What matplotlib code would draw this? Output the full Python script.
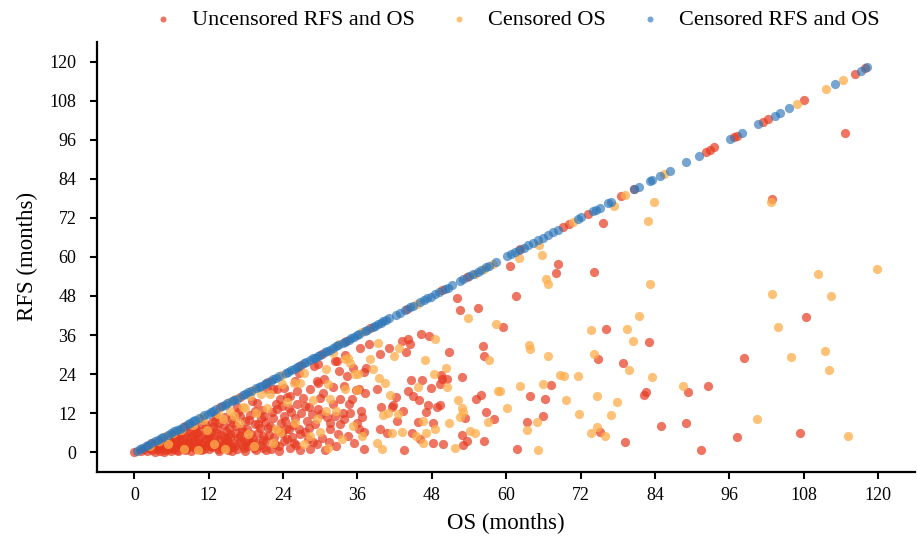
import numpy as np
import matplotlib.pyplot as plt

# colours for the three patient groups
RED = "#e63a1f"
ORANGE = "#fdae4b"
BLUE = "#2b75b8"

# uncensored RFS and OS, off the diagonal (OS, RFS) in months
red_pts = [
    (1.0, 0.4), (1.5, 0.9), (2.0, 0.3), (2.4, 1.2), (2.8, 0.6), (3.0, 1.8),
    (3.3, 0.2), (3.6, 1.1), (3.9, 2.4), (4.2, 0.5), (4.5, 1.6), (4.8, 3.0), (5.0, 0.8), (5.3, 2.1),
    (5.6, 4.1), (5.9, 0.3), (5.8, 1.4),
    (6.1, 2.8), (6.3, 0.9), (6.5, 4.5), (6.7, 1.7), (6.9, 3.4), (7.1, 0.4), (7.3, 2.3), (7.5, 5.6),
    (7.7, 1.2), (7.9, 3.9), (8.1, 0.7), (8.3, 2.7), (8.5, 6.1), (8.7, 1.5), (8.9, 4.6), (8.6, 3.3), (7.0, 5.0),
    (9.1, 0.3), (9.2, 2.0), (9.4, 3.6), (9.6, 5.2), (9.8, 7.4), (10.0, 1.1), (10.2, 2.9), (10.4, 4.3),
    (10.6, 6.5), (10.8, 0.6), (11.0, 1.9), (11.2, 3.2), (11.4, 5.7), (11.6, 8.4), (11.8, 2.4), (11.9, 4.9),
    (10.5, 1.5), (9.9, 6.3),
    (12.1, 0.9), (12.2, 3.0), (12.4, 6.2), (12.6, 1.6), (12.8, 4.4), (13.0, 9.6), (13.2, 2.2), (13.4, 7.0),
    (13.6, 0.4), (13.8, 3.7), (14.0, 5.4), (14.2, 1.3), (14.4, 8.3), (14.6, 2.8), (14.8, 6.6), (14.9, 4.0),
    (13.1, 11.1), (12.7, 7.9),
    (15.1, 0.7), (15.2, 2.5), (15.4, 4.8), (15.6, 10.2), (15.8, 1.6), (16.0, 3.0), (16.2, 6.0), (16.4, 8.1),
    (16.6, 1.0), (16.8, 12.5), (17.0, 5.0), (17.2, 3.6), (17.4, 7.2), (17.6, 2.2), (17.8, 9.5), (17.9, 0.5),
    (16.5, 14.0), (15.3, 7.6),
    (18.1, 1.9), (18.2, 7.1), (18.4, 4.2), (18.6, 11.3), (18.8, 2.9), (19.0, 15.8), (19.2, 4.0), (19.4, 8.8),
    (19.6, 0.8), (19.8, 15.2), (20.0, 6.0), (20.2, 2.3), (20.4, 10.4), (20.6, 13.0), (20.8, 1.4), (20.8, 5.0),
    (19.9, 8.6), (20.9, 11.2),
    (21.2, 3.4), (21.4, 19.4), (21.6, 7.5), (21.9, 8.1), (22.1, 1.0), (22.4, 10.6), (22.4, 19.3), (22.6, 4.6),
    (22.8, 14.9), (23.0, 13.2), (23.0, 19.4), (23.3, 2.0), (23.5, 16.3), (23.6, 9.0), (23.8, 5.8), (24.1, 3.5),
    (24.1, 11.2), (24.1, 19.8),
    (24.4, 7.0), (24.6, 17.0), (24.9, 13.7), (24.9, 7.1), (25.1, 1.4), (25.1, 17.3), (25.4, 4.8), (25.7, 3.0),
    (25.9, 22.0), (26.0, 10.6), (26.2, 14.7), (26.2, 18.8), (26.5, 7.1), (26.7, 0.6), (26.9, 12.0), (26.5, 24.5),
    (27.5, 14.2), (27.8, 9.6), (28.0, 4.2), (28.4, 0.9), (28.4, 19.3), (28.7, 11.8), (29.0, 26.5), (29.4, 2.5),
    (29.4, 21.9), (29.6, 27.0), (29.7, 21.4), (29.7, 13.2), (29.9, 16.8), (28.2, 7.5),
    (30.3, 4.5), (30.5, 18.2), (31.1, 10.8), (31.6, 7.1), (31.6, 9.1), (32.1, 14.7), (32.4, 28.0), (32.6, 1.9),
    (32.7, 28.0), (32.9, 5.6), (33.2, 16.3), (33.2, 8.6), (30.8, 0.8),
    (33.6, 12.0), (34.3, 23.4), (34.5, 5.0), (34.8, 12.2), (35.1, 16.3), (35.4, 2.7), (35.7, 19.0), (35.9, 9.0),
    (34.0, 30.0), (33.9, 20.5),
    (2.2, 1.9), (3.5, 2.8), (4.1, 1.3), (4.7, 0.2), (5.2, 3.6), (5.5, 1.0), (6.0, 5.2), (6.4, 2.2),
    (6.8, 0.6), (7.2, 4.1), (7.4, 1.8), (7.8, 3.0), (8.2, 5.0), (8.4, 1.0), (8.8, 2.4), (9.0, 7.0),
    (9.3, 4.4), (9.7, 1.7), (10.1, 5.8), (10.3, 3.7), (10.7, 8.6), (10.9, 2.5), (11.3, 0.9), (11.5, 4.2),
    (11.7, 7.1), (12.0, 5.3), (12.3, 1.9), (12.5, 9.2), (12.9, 3.4), (13.3, 5.9), (13.5, 1.1), (13.7, 8.9),
    (14.1, 2.5), (14.5, 4.7), (14.7, 10.9), (15.0, 3.3), (15.5, 5.7), (15.7, 0.4), (15.9, 9.0), (16.3, 2.0),
    (16.7, 4.3), (17.1, 11.0), (17.3, 6.3), (17.7, 1.4), (18.0, 3.6), (18.5, 9.9), (18.9, 5.6), (19.3, 1.2),
    (19.5, 12.6), (19.7, 3.1), (20.3, 7.6), (20.7, 3.8), (21.0, 9.4), (21.3, 0.7), (21.8, 5.2), (22.2, 12.3),
    (22.7, 2.6), (23.1, 6.8), (23.4, 0.5), (23.9, 14.2), (24.3, 9.5), (24.7, 4.0), (25.3, 12.4), (25.6, 8.4),
    (26.1, 2.2), (26.8, 5.5), (27.2, 16.8), (27.6, 6.3), (28.1, 13.9), (28.8, 3.3), (29.2, 8.6), (30.1, 11.9),
    (30.6, 22.5), (31.4, 3.1), (32.0, 19.9), (32.3, 11.2), (33.0, 25.0), (33.8, 10.1), (34.6, 14.8), (35.3, 26.0),
    (36.4, 32.1), (37.9, 33.1), (41.1, 32.1), (43.2, 34.1), (44.2, 34.9), (44.5, 33.1), (46.2, 36.2),
    (47.6, 35.8), (39.6, 30.1), (43.9, 30.8), (50.8, 30.8), (56.2, 32.6), (56.5, 29.6), (37.4, 25.8),
    (37.1, 24.6), (49.5, 23.6), (49.7, 22.6), (50.4, 22.4), (52.8, 23.2), (44.7, 22.2), (46.4, 22.2),
    (47.8, 19.7), (49.3, 21.0), (36.3, 19.3), (37.2, 18.3), (39.1, 19.3), (44.2, 18.8), (44.9, 17.3),
    (42.2, 17.0), (45.9, 16.0), (56.0, 17.5), (55.2, 16.3), (53.3, 10.6), (56.8, 12.5), (58.0, 10.1),
    (39.8, 14.0), (41.5, 14.0), (41.8, 14.6), (43.4, 12.7), (47.4, 14.4), (48.8, 14.0), (49.3, 14.5),
    (47.0, 12.5), (36.6, 12.7), (36.8, 10.8), (42.3, 9.6), (45.8, 9.3), (48.2, 9.1), (36.2, 7.1),
    (37.0, 6.2), (39.6, 7.1), (40.7, 5.8), (44.8, 6.0), (46.1, 4.2), (52.8, 5.2), (56.5, 3.5), (53.6, 3.5),
    (53.0, 2.1), (49.8, 2.5), (48.2, 2.8), (43.5, 0.7), (37.1, 0.9),
    (52.0, 47.5), (52.6, 43.7), (55.5, 44.4), (59.5, 38.5), (61.6, 48.0), (60.6, 57.2),
    (68.3, 57.8), (68.0, 55.2), (74.1, 55.5), (76.1, 37.9), (83.0, 34.0), (74.8, 28.5), (78.9, 27.3),
    (98.3, 28.9), (108.4, 41.4), (67.2, 20.6), (63.9, 17.4), (66.3, 16.5), (82.2, 17.5), (82.6, 18.4),
    (89.4, 18.5), (92.6, 20.5), (63.3, 9.3), (66.0, 11.0), (75.1, 6.1), (79.1, 3.3), (61.7, 1.0),
    (85.0, 8.0), (89.0, 9.1), (91.4, 0.6), (97.3, 4.8), (107.4, 6.0), (114.7, 98.1), (102.9, 77.7),
    (75.7, 70.4),
]
# uncensored patients with RFS equal to OS (no recurrence before death)
red_diag = [0.0, 2.9, 8.2, 13.8, 17.1, 21.6, 26.9, 30.3, 34.2, 38.1, 44.0, 49.7, 53.7, 62.3, 69.2,
            70.2, 73.2, 78.6, 80.7, 92.3, 92.9, 93.6, 96.7, 97.2, 101.4, 102.3, 108.1, 116.3, 117.9]

# censored OS, off the diagonal
orange_pts = [
    (2.5, 2.0), (4.0, 3.5), (5.5, 2.6), (6.3, 5.8), (7.6, 6.9), (8.0, 1.0), (9.5, 8.5), (10.3, 0.6),
    (11.1, 9.8), (11.7, 6.8), (12.9, 2.6), (13.5, 11.8), (14.3, 10.3), (14.7, 0.9), (15.5, 12.6),
    (16.0, 11.2), (16.3, 16.3), (16.9, 9.0), (17.5, 13.9), (17.9, 13.7), (18.3, 5.5), (18.7, 17.3),
    (19.3, 2.0), (19.7, 12.2), (20.5, 18.0), (21.4, 13.7), (21.9, 17.8), (22.4, 3.0), (22.9, 7.0),
    (23.5, 6.1), (23.8, 20.9), (24.6, 15.3), (25.7, 21.4), (26.0, 9.0), (26.7, 21.2), (27.3, 2.5),
    (27.3, 24.5), (28.4, 5.0), (28.9, 16.0), (29.4, 10.1), (30.0, 6.1), (31.0, 12.7), (31.0, 25.7),
    (31.3, 1.4), (31.3, 20.9), (31.6, 16.3), (32.1, 30.6), (32.6, 12.7), (33.5, 4.0), (34.0, 19.3),
    (34.0, 28.5), (34.5, 29.1), (34.8, 27.5), (35.6, 23.9), (36.1, 23.9), (35.2, 8.0),
    (39.3, 33.5), (42.7, 32.1), (48.5, 34.9), (53.9, 41.3), (58.4, 39.3), (41.9, 29.6), (57.3, 28.3),
    (38.0, 28.5), (46.9, 28.2), (50.3, 26.0), (38.5, 25.5), (48.4, 23.9), (39.4, 22.9), (40.4, 21.4),
    (45.7, 20.2), (50.5, 20.0), (36.0, 19.0), (41.2, 17.5), (58.6, 18.8), (52.2, 16.0), (52.9, 13.7),
    (53.0, 12.4), (52.6, 10.7), (57.1, 9.4), (40.2, 11.4), (41.0, 12.0), (42.6, 11.7), (46.6, 9.6),
    (50.8, 9.1), (41.6, 5.8), (43.2, 6.2), (45.5, 5.0), (47.1, 5.8), (48.5, 7.3), (54.1, 6.5),
    (54.9, 6.0), (51.7, 1.4), (46.6, 2.8), (39.1, 2.8), (39.9, 1.1), (36.7, 5.0), (59.0, 18.7),
    (62.1, 59.6), (65.3, 63.5), (65.8, 60.5), (66.5, 53.2), (66.8, 51.8), (83.2, 51.6), (110.3, 54.9),
    (119.8, 56.4), (102.9, 48.5), (112.4, 48.1), (103.8, 38.4), (73.7, 37.4), (79.5, 38.0), (81.4, 42.0),
    (80.5, 34.1), (63.7, 33.0), (63.9, 31.6), (66.8, 29.7), (74.1, 30.1), (79.8, 25.4), (105.9, 29.3),
    (111.5, 31.0), (112.1, 25.2), (68.7, 23.6), (69.4, 23.3), (71.6, 23.3), (83.5, 23.0), (62.2, 20.5),
    (66.0, 21.1), (69.6, 16.1), (74.6, 17.4), (77.9, 15.3), (88.6, 20.5), (60.1, 13.5), (63.3, 6.8),
    (64.9, 9.4), (71.7, 11.8), (76.9, 11.4), (74.6, 7.9), (73.7, 5.8), (75.9, 4.9), (65.2, 0.8),
    (100.4, 10.1), (115.2, 4.9), (102.8, 76.9), (82.9, 70.9), (83.8, 77.0), (77.4, 75.7),
]
orange_diag = [5.1, 10.9, 15.3, 19.2, 23.8, 33.1, 36.8, 45.6, 54.9, 56.4, 57.8, 70.8, 79.1, 85.4,
               106.9, 111.6, 114.4]

# censored RFS and OS: RFS equals OS for all of them
blue_diag = [
    0.4, 0.9, 1.3, 1.9, 2.2, 2.7, 3.4, 3.8, 4.3, 4.6, 5.4, 5.9, 6.4, 6.8, 7.3, 7.9, 8.6, 9.0, 9.5, 9.8,
    10.4, 11.3, 11.8, 12.3, 12.7, 13.2, 14.1, 14.6, 15.0, 15.7, 16.1, 16.5, 17.5, 17.9, 18.4, 18.8,
    19.6, 20.1, 20.5, 21.0, 21.3, 22.0, 22.4, 22.9, 23.3, 24.4, 24.8, 25.2, 25.7, 26.2, 26.5, 27.3,
    27.7, 28.3, 28.8, 29.1, 29.6, 30.0, 30.7, 31.1, 31.5, 32.0, 32.5, 32.8, 33.6, 34.0, 34.6, 35.0,
    35.4, 35.9, 36.3, 37.2, 37.6, 38.5, 38.9, 39.3, 39.8, 40.2, 40.6, 41.1,
    42.2, 42.9, 43.6, 44.5, 44.9, 46.1, 46.7, 47.3, 47.8, 48.5, 49.1, 50.1, 50.6, 51.3, 52.5, 53.1,
    54.0, 54.6, 55.4, 55.9, 56.8, 57.3, 58.3, 60.2, 60.8, 61.5, 62.0, 62.8, 63.5, 64.3, 65.1, 65.9,
    66.7, 67.5, 68.3, 71.6, 72.1, 74.0, 74.5, 75.1, 76.4, 76.9, 80.7, 81.5, 83.2, 83.5, 84.8, 86.5,
    89.0, 91.1, 96.1, 98.0, 100.7, 103.3, 104.2, 105.6, 113.1, 117.2, 118.3,
]

ticks = np.arange(0, 121, 12)

plt.rcParams["font.family"] = ["Liberation Serif", "DejaVu Serif"]

fig, ax = plt.subplots(figsize=(9.17, 5.38), dpi=100)
fig.subplots_adjust(left=0.106, right=0.998, bottom=0.123, top=0.922)

red_os = [p[0] for p in red_pts] + red_diag
red_rfs = [p[1] for p in red_pts] + red_diag
orange_os = [p[0] for p in orange_pts] + orange_diag
orange_rfs = [p[1] for p in orange_pts] + orange_diag

kw = dict(s=44, linewidths=0)
ax.scatter(red_os, red_rfs, color=RED, alpha=0.7, label="Uncensored RFS and OS", **kw)
ax.scatter(orange_os, orange_rfs, color=ORANGE, alpha=0.75, label="Censored OS", **kw)
ax.scatter(blue_diag, blue_diag, color=BLUE, alpha=0.65, label="Censored RFS and OS", **kw)

ax.set_xlim(-6, 126)
ax.set_ylim(-6, 126)
ax.set_xticks(ticks)
ax.set_yticks(ticks)
ax.tick_params(labelsize=13, width=1.5, length=5)
ax.tick_params(axis="x", pad=6)
ax.tick_params(axis="y", pad=10)
ax.set_xlabel("OS (months)", fontsize=16.5, labelpad=6)
ax.set_ylabel("RFS (months)", fontsize=16.5, labelpad=8)
for side in ["top", "right"]:
    ax.spines[side].set_visible(False)
for side in ["left", "bottom"]:
    ax.spines[side].set_linewidth(1.6)

ax.legend(loc="lower center", bbox_to_anchor=(0.505, 1.0), ncol=3, frameon=False,
          fontsize=16, markerscale=0.65, handletextpad=0.3, columnspacing=1.0,
          borderaxespad=0.15)

fig.savefig("out.png")
